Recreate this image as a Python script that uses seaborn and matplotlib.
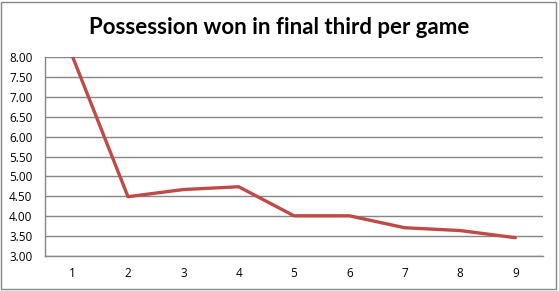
import matplotlib
matplotlib.use("Agg")
import matplotlib.pyplot as plt
import seaborn as sns
import numpy as np
from matplotlib.patches import Rectangle

games = [1, 2, 3, 4, 5, 6, 7, 8, 9]
won = [8.00, 4.49, 4.67, 4.74, 4.01, 4.01, 3.71, 3.64, 3.46]
y_ticks = [3.0, 3.5, 4.0, 4.5, 5.0, 5.5, 6.0, 6.5, 7.0, 7.5, 8.0]

sns.set_style("white")
plt.rcParams['font.family'] = ['Open Sans', 'DejaVu Sans']
plt.rcParams['text.color'] = 'black'
plt.rcParams['xtick.labelcolor'] = 'black'
plt.rcParams['ytick.labelcolor'] = 'black'

fig = plt.figure(figsize=(5.59, 2.91), dpi=100)
ax = fig.add_axes([45/559, 35/291, 498/559, 199/291])

sns.lineplot(x=games, y=won, ax=ax, color='#BE4B48', linewidth=2.4, zorder=3)

ax.set_xlim(0.5, 9.5)
ax.set_ylim(3, 8)
ax.set_yticks(y_ticks)
ax.set_yticklabels([f"{v:.2f}" for v in y_ticks], fontsize=8.5)
ax.set_xticks(games)
ax.set_xticklabels([str(g) for g in games], fontsize=8.5)
ax.set_xticks(np.arange(0.5, 10, 1), minor=True)
ax.tick_params(axis='x', which='major', length=0, pad=8)
ax.tick_params(axis='x', which='minor', length=5, direction='out', color='#868686', width=1)
ax.tick_params(axis='y', length=5, direction='out', color='#868686', width=1, pad=4)
ax.yaxis.grid(True, color='#868686', linewidth=1)
ax.xaxis.grid(False)
for s in ['top', 'right']:
    ax.spines[s].set_visible(False)
for s in ['left', 'bottom']:
    ax.spines[s].set_color('#868686')
    ax.spines[s].set_linewidth(1)

fig.text(0.5, 1 - 28/291, "Possession won in final third per game", ha='center', va='center',
         fontsize=16, fontweight='bold', family='Lato', color='black')

fig.patches.append(Rectangle((1/559, 2/291), 555/559, 287/291, transform=fig.transFigure,
                             fill=False, edgecolor='#868686', linewidth=1))

fig.savefig("out.png", dpi=100)
